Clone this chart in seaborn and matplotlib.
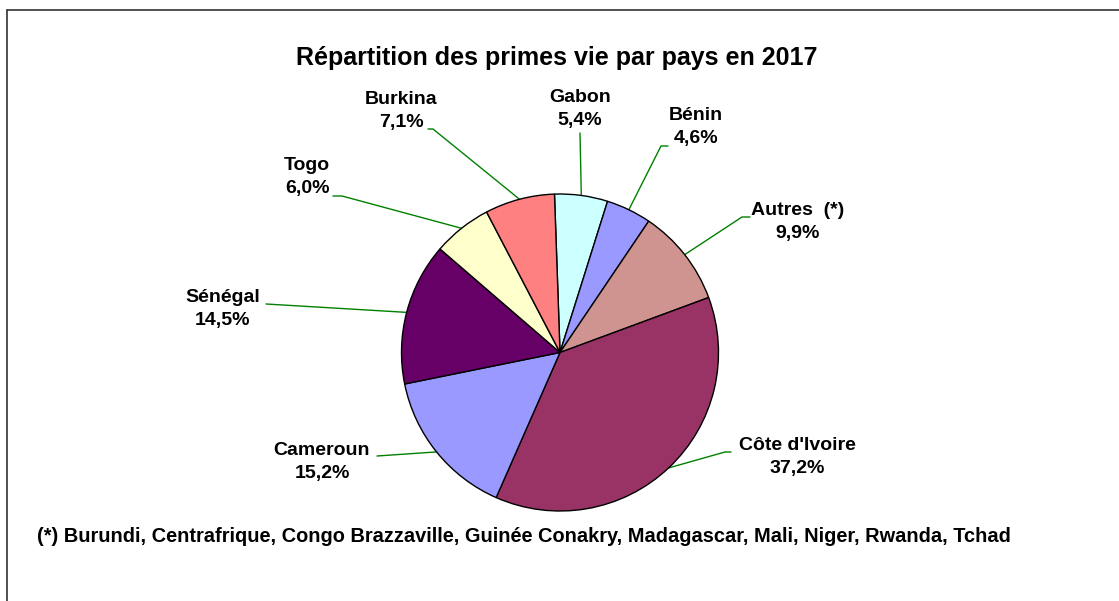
import numpy as np
import matplotlib
matplotlib.use("Agg")
import matplotlib.pyplot as plt
import seaborn as sns

# --- DATA ---
countries = ["Gabon", "Bénin", "Autres  (*)", "Côte d'Ivoire", "Cameroun",
             "Sénégal", "Togo", "Burkina"]
shares = [5.4, 4.6, 9.9, 37.2, 15.2, 14.5, 6.0, 7.1]
share_labels = ["5,4%", "4,6%", "9,9%", "37,2%", "15,2%", "14,5%", "6,0%", "7,1%"]
colors = ["#CCFFFF", "#9999FF", "#D09490", "#993366", "#9999FF",
          "#660066", "#FFFFCC", "#FF8080"]
title = "Répartition des primes vie par pays en 2017"
footnote = ("(*) Burundi, Centrafrique, Congo Brazzaville, Guinée Conakry, "
            "Madagascar, Mali, Niger, Rwanda, Tchad")

# --- LAYOUT (pixels) ---
W, H = 1119, 601
CX, CY, R = 560, 352.5, 158.5
# text block centre and the end of the leader line next to the text
label_pos = [(580, 109), (696, 127), (798, 222), (797, 457), (322, 462),
             (223, 309), (307, 177), (401, 111)]
leader_end = [[(580, 133)], [(668, 146), (661, 146)], [(750, 217), (742, 217)],
              [(731, 452), (725, 452)], [(377, 456)], [(266, 304)],
              [(333, 196), (342, 196)], [(428, 129), (433, 129)]]

sns.set_theme(style="white")
plt.rcParams["font.family"] = ["Liberation Sans", "DejaVu Sans"]
plt.rcParams["text.color"] = "black"

fig = plt.figure(figsize=(W / 100, H / 100), dpi=100)
ax = fig.add_axes([(CX - R) / W, (H - CY - R) / H, 2 * R / W, 2 * R / H])

start = 92
wedges, _ = ax.pie(shares, colors=sns.color_palette(colors), startangle=start,
                   counterclock=False, radius=1,
                   wedgeprops=dict(edgecolor="black", linewidth=1.0))
ax.set_xlim(-1, 1)
ax.set_ylim(-1, 1)
ax.set_aspect("equal")
ax.axis("off")


def to_data(px, py):
    return (px - CX) / R, (CY - py) / R


for i, w in enumerate(wedges):
    mid = np.deg2rad((w.theta1 + w.theta2) / 2)
    pts = [to_data(*p) for p in leader_end[i]] + [(np.cos(mid), np.sin(mid))]
    xs, ys = zip(*pts)
    ax.plot(xs, ys, color="#008000", lw=1.0, clip_on=False, zorder=0)
    tx, ty = to_data(*label_pos[i])
    ax.text(tx, ty, f"{countries[i]}\n{share_labels[i]}", ha="center",
            va="center", fontsize=14, fontweight="bold", linespacing=1.5,
            multialignment="center", color="black")

fig.text(557 / W, 1 - 58 / H, title, ha="center", va="center",
         fontsize=18, fontweight="bold", color="black")
fig.text(37 / W, 1 - 537 / H, footnote, ha="left", va="center",
         fontsize=14.4, fontweight="bold", color="black")

# chart border (only top and left edges visible in the crop)
fig.add_artist(plt.Line2D([7 / W, 7 / W], [0, 1 - 10 / H], color="#333333",
                          lw=1.2, transform=fig.transFigure))
fig.add_artist(plt.Line2D([7 / W, 1], [1 - 10 / H, 1 - 10 / H], color="#333333",
                          lw=1.2, transform=fig.transFigure))

fig.savefig("out.png", dpi=100, facecolor="white")
